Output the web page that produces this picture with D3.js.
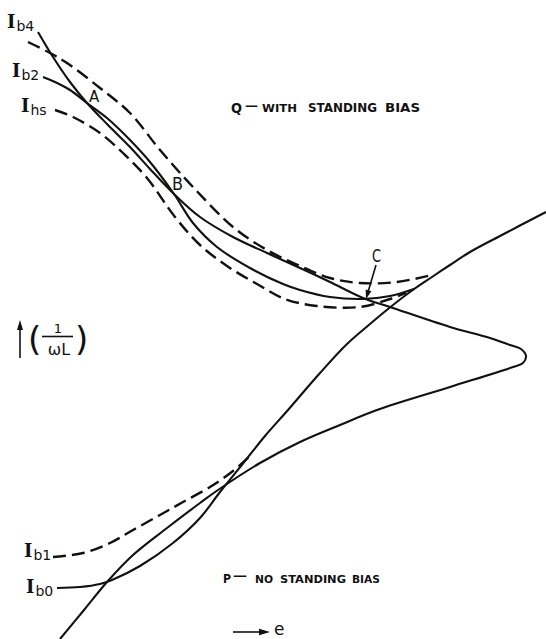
<!DOCTYPE html>
<html><head><meta charset="utf-8">
<script src="https://cdn.jsdelivr.net/npm/d3@7"></script>
<style>html,body{margin:0;padding:0;background:#fff;} svg{display:block;}</style>
</head><body>
<svg id="c" width="546" height="639"></svg>
<script>
// Curves in (e, 1/ωL) units, origin at bottom-left
const curveIb4 = [[38,607],[53,582],[70,557],[87,536],[107,515],[130,492],[150,470],[174,445],[200,422],[233,402],[267,386],[300,371],[330,357],[363,341],[390,332],[450,312],[490,301],[510,294],[521,290],[526,283],[523,276],[513,272],[450,252],[377,229],[340,214],[300,197],[260,176],[218,149],[200,136],[167,111],[133,84],[107,57],[84,29],[60,0]];
const curveIb2 = [[43,562],[55,557],[70,549],[87,536],[107,521],[130,499],[150,477],[174,445],[193,416],[217,392],[250,371],[283,355],[300,349],[330,342],[363,340],[390,343],[414,350]];
const curveIb4Dashed = [[28,597],[50,586],[67,576],[100,551],[130,526],[160,489],[193,452],[233,412],[267,389],[300,373],[330,361],[360,356],[397,357],[432,364]];
const curveIh5Dashed = [[55,529],[73,522],[100,506],[123,486],[147,461],[175,422],[200,394],[227,373],[257,355],[285,340],[317,333],[360,332],[390,340],[406,346]];
const curveIb0 = [[57,51],[80,52],[100,55],[112,59],[140,73],[173,96],[200,121],[220,147],[245,178],[265,203],[288,229],[320,266],[347,295],[370,315],[388,330],[410,347],[432,362],[450,374],[470,387],[500,403],[546,427]];
const curveIb1Dashed = [[53,82],[83,86],[110,96],[133,109],[160,124],[183,137],[210,152],[233,168],[250,183]];

const series = [
  {pts: curveIb4, dashed:false},
  {pts: curveIb2, dashed:false},
  {pts: curveIb4Dashed, dashed:true},
  {pts: curveIh5Dashed, dashed:true},
  {pts: curveIb0, dashed:false},
  {pts: curveIb1Dashed, dashed:true}
];

const W = 546, H = 639;
const x = d3.scaleLinear().domain([0, 546]).range([0, W]);
const y = d3.scaleLinear().domain([0, 639]).range([H, 0]);
const svg = d3.select('#c');
svg.append('rect').attr('width', W).attr('height', H).attr('fill', '#fff');

const line = d3.line().x(d => x(d[0])).y(d => y(d[1])).curve(d3.curveCatmullRom.alpha(0.5));

svg.selectAll('path.curve').data(series).join('path')
  .attr('class', 'curve')
  .attr('d', d => line(d.pts))
  .attr('fill', 'none')
  .attr('stroke', '#111')
  .attr('stroke-width', d => d.dashed ? 2.4 : 2.1)
  .attr('stroke-dasharray', d => d.dashed ? '13,6' : null)
  .attr('stroke-linecap', 'butt');

const ink = '#111';
const sans = "'DejaVu Sans', sans-serif";
const serif = "'DejaVu Serif', serif";

function ilabel(px, py, sub) {
  const t = svg.append('text').attr('x', px).attr('y', py).attr('fill', ink);
  t.append('tspan').attr('font-family', serif).attr('font-weight', 'bold').attr('font-size', 18).text('I');
  t.append('tspan').attr('font-family', sans).attr('font-size', 14).attr('dy', 3).attr('dx', 1).text(sub);
}
ilabel(7, 28, 'b4');
ilabel(12, 77, 'b2');
ilabel(21, 112, 'hs');
ilabel(24, 557, 'b1');
ilabel(26, 593, 'b0');

function txt(px, py, s, size, opts = {}) {
  const t = svg.append('text').attr('x', px).attr('y', py).attr('fill', ink)
    .attr('font-family', opts.family || sans).attr('font-size', size).text(s);
  if (opts.anchor) t.attr('text-anchor', opts.anchor);
  if (opts.bold) t.attr('font-weight', 'bold');
  if (opts.len) t.attr('textLength', opts.len).attr('lengthAdjust', 'spacingAndGlyphs');
  return t;
}
txt(89, 102, 'A', 15);
txt(172, 190, 'B', 17, {len: 11});
txt(372, 262, 'C', 17, {len: 9});

// Q text
txt(231, 113, 'Q', 14, {len: 11, bold: true});
txt(245, 110, '—', 12, {len: 13, bold: true});
txt(262, 112, 'WITH', 11, {len: 35, bold: true});
txt(308, 112, 'STANDING', 13, {len: 69, bold: true});
txt(385, 112, 'BIAS', 13, {len: 35, bold: true});

// P text
txt(223, 583, 'P', 13, {len: 8, bold: true});
txt(233, 580, '—', 12, {len: 14, bold: true});
txt(255, 583, 'NO', 11, {len: 18, bold: true});
txt(280, 583, 'STANDING', 11, {len: 66, bold: true});
txt(352, 583, 'BIAS', 11, {len: 28, bold: true});

function arrow(x1, y1, x2, y2, len, hw) {
  const dx = x2 - x1, dy = y2 - y1, L = Math.hypot(dx, dy);
  const ux = dx / L, uy = dy / L;
  const bx = x2 - ux * len, by = y2 - uy * len;
  svg.append('line').attr('x1', x1).attr('y1', y1).attr('x2', bx + ux).attr('y2', by + uy)
    .attr('stroke', ink).attr('stroke-width', 1.6);
  svg.append('path').attr('d', `M${x2},${y2}L${bx - uy * hw},${by + ux * hw}L${bx + uy * hw},${by - ux * hw}Z`)
    .attr('fill', ink);
}
arrow(376, 265, 366, 299, 9, 3);
arrow(20, 358, 20, 320, 10, 3);
arrow(233, 632, 270, 632, 11, 3.2);

// 1/ωL label
txt(28, 351, '(', 34);
txt(75, 351, ')', 34);
txt(58, 333, '1', 13, {anchor: 'middle'});
svg.append('line').attr('x1', 42).attr('x2', 73).attr('y1', 336.5).attr('y2', 336.5).attr('stroke', ink).attr('stroke-width', 1.6);
txt(59, 355, 'ωL', 16, {anchor: 'middle'});

// e
txt(274, 635, 'e', 17);
</script>
</body></html>
